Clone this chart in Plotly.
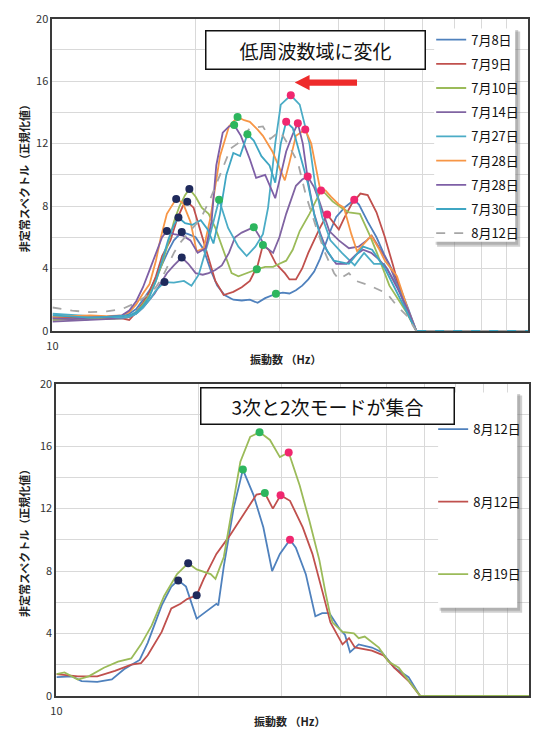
import plotly.graph_objects as go

W, H = 536, 743
def px(x): return x / W
def py(y): return 1 - y / H

# ---------------- top chart data ----------------
top_names = ["7月8日", "7月9日", "7月10日", "7月14日", "7月27日", "7月28日", "7月28日", "7月30日", "8月12日"]
top_colors = ["#4F81BD", "#C0504D", "#9BBB59", "#8064A2", "#4BACC6", "#F79646", "#7E5FA6", "#3FA6C3", "#A6A6A6"]

f_0708 = [10, 10.5, 11, 11.5, 12, 12.5, 13, 13.5, 14, 14.5, 15, 15.5, 16, 16.5, 17, 17.5, 18, 18.7, 19.3, 20, 20.8, 21.5, 22.2, 23, 24, 25, 26, 27, 28, 29.5, 30.5, 31.5, 32.5, 33.5, 34.5, 35.5, 36.5, 37.5, 38.5, 39.5, 41.1, 43.1, 44.1, 46, 48, 50, 53, 56, 58.2, 100]
v_0708 = [0.8, 0.75, 0.8, 0.7, 0.75, 0.8, 0.85, 0.8, 0.9, 1.1, 1.4, 2.0, 2.6, 3.4, 4.3, 5.1, 5.8, 6.33, 6.2, 6.0, 5.2, 3.9, 2.9, 2.3, 2.0, 1.95, 2.0, 1.8, 2.1, 2.38, 2.45, 2.4, 2.6, 2.9, 3.3, 3.8, 4.6, 5.6, 6.5, 7.3, 7.9, 8.4, 8.1, 7.0, 6.0, 4.8, 3.3, 1.4, 0, 0]

f_0709 = [10, 11, 12, 13, 14, 14.5, 15, 15.5, 16, 16.5, 17, 17.7, 18.3, 18.8, 19.2, 19.8, 20.5, 21.2, 22, 22.9, 24, 25, 26, 27, 27.7, 28.5, 29.5, 30.8, 31.5, 32.5, 33.5, 34.5, 35.5, 36.5, 37.8, 38.8, 40, 41, 42.5, 44.4, 46, 48, 50, 52, 54, 56, 58.2, 100]
v_0709 = [0.9, 0.85, 0.9, 0.85, 0.8, 0.7, 1.2, 1.8, 2.5, 3.5, 4.8, 5.8, 7.2, 8.0, 8.28, 7.9, 6.4, 4.8, 3.2, 2.3, 2.5, 2.8, 3.2, 4.2, 5.5, 5.2, 4.3, 3.7, 3.3, 3.3, 4.0, 5.0, 5.8, 6.6, 7.46, 7.0, 6.5, 7.2, 8.1, 8.8, 8.7, 7.6, 6.0, 4.2, 2.4, 1.0, 0, 0]

f_0710 = [10, 11, 12, 13, 14, 14.5, 15, 15.5, 16, 16.5, 17, 17.5, 18, 18.5, 19, 19.4, 20, 20.6, 21.3, 22, 22.7, 23.8, 24.6, 25.5, 26.9, 28, 29.1, 30, 31, 32, 33.1, 34.7, 36.4, 36.7, 37.5, 38.8, 40.5, 42, 44.3, 45.1, 46.5, 48.1, 51.1, 55.5, 58.2, 100]
v_0710 = [0.7, 0.75, 0.8, 0.75, 0.8, 0.9, 1.2, 1.7, 2.3, 3.2, 4.3, 5.6, 7.0, 8.0, 8.7, 9.1, 8.6, 7.9, 7.5, 6.6, 5.4, 3.7, 3.5, 3.7, 3.95, 4.1, 4.1, 4.3, 4.5, 5.2, 6.4, 7.5, 8.8, 9.0, 8.8, 8.3, 7.9, 7.6, 7.5, 7.0, 6.1, 5.0, 2.9, 1.2, 0, 0]

f_0714 = [10, 11, 12, 13, 14, 14.5, 15, 15.5, 16, 16.4, 17, 17.4, 18, 18.7, 19.3, 20, 20.7, 21.3, 22, 22.7, 23.5, 24.2, 25, 26.5, 27.3, 28, 29.1, 30, 31, 32.5, 33.5, 34.4, 35.5, 36.4, 38.2, 40, 42, 44, 45.8, 46.9, 48.5, 51, 53, 55.5, 58.2, 100]
v_0714 = [0.6, 0.65, 0.7, 0.75, 0.8, 0.9, 1.1, 1.5, 2.0, 2.4, 3.2, 3.7, 4.2, 4.7, 4.3, 3.7, 3.6, 3.7, 3.9, 4.2, 5.0, 6.0, 6.3, 6.65, 6.0, 5.4, 5.0, 6.0, 7.5, 9.3, 9.7, 9.9, 9.2, 8.3, 6.4, 5.8, 5.3, 5.4, 5.8, 6.1, 5.4, 4.3, 3.0, 1.4, 0, 0]

f_0727 = [10, 11, 12, 13, 14, 14.5, 15, 15.5, 16, 16.5, 17.2, 18, 18.9, 19.6, 20.3, 21.3, 22.4, 23.4, 24.6, 25.6, 26.7, 27.7, 28.4, 29.4, 30.2, 31.7, 33.1, 34.7, 35.7, 36.9, 38.4, 40.6, 43.2, 45.2, 47.4, 49.8, 53, 56, 58.2, 100]
v_0727 = [1.1, 1.0, 0.95, 0.9, 0.85, 0.9, 1.1, 1.5, 2.0, 2.6, 3.13, 3.1, 3.2, 2.9, 3.6, 5.8, 8.4, 6.6, 5.4, 4.8, 5.4, 6.2, 7.9, 12.0, 14.5, 15.1, 14.5, 12.0, 9.3, 7.3, 5.8, 5.0, 4.2, 5.0, 4.3, 4.3, 2.9, 1.2, 0, 0]

f_0728a = [10, 11, 12, 13, 14, 14.5, 15, 15.5, 16, 16.5, 16.9, 17.4, 18.2, 18.8, 19.5, 20.1, 20.8, 21.5, 22.5, 23.5, 24.5, 25.3, 26, 27, 27.7, 29, 30.2, 30.8, 31.5, 32.5, 34.0, 35, 36.5, 37.5, 38.5, 40, 41, 42.5, 43.7, 45, 46.8, 48.5, 50, 53, 56, 58.2, 100]
v_0728a = [0.9, 0.95, 1.0, 0.95, 1.0, 1.2, 1.7, 2.4, 3.0, 4.5, 6.0, 7.5, 8.46, 8.2, 7.0, 5.1, 5.3, 7.3, 11.2, 13.1, 13.7, 13.5, 13.4, 12.9, 12.5, 11.5, 10.2, 9.65, 10.8, 12.5, 12.9, 12.0, 9.15, 9.0, 8.6, 8.1, 7.9, 6.2, 5.1, 5.5, 6.1, 5.3, 4.5, 3.5, 1.3, 0, 0]

f_0728b = [10, 11, 12, 13, 14, 14.5, 15, 15.5, 16, 16.5, 17, 17.4, 18, 18.8, 19.5, 20.2, 21, 21.6, 22.1, 22.8, 23.5, 24.1, 24.9, 26.0, 26.8, 28.0, 29.4, 30.2, 31, 32, 32.8, 33.6, 34.5, 35.5, 36.6, 37.8, 39.5, 41.5, 43.5, 45, 46.8, 48.5, 50.5, 53, 56, 58.2, 100]
v_0728b = [0.8, 0.75, 0.85, 0.9, 1.0, 1.3, 1.9, 2.8, 3.9, 5.0, 6.0, 6.4, 6.2, 6.1, 5.8, 5.0, 5.3, 7.0, 10.6, 12.7, 13.1, 13.2, 12.5, 11.0, 9.8, 10.0, 8.5, 10.0, 11.5, 12.6, 13.3, 12.0, 9.5, 7.5, 6.2, 5.1, 4.3, 4.3, 4.9, 5.2, 5.0, 4.6, 4.0, 2.8, 1.3, 0, 0]

f_0730 = [10, 11, 12, 13, 14, 14.5, 15, 15.5, 16, 16.5, 17, 17.5, 18, 18.4, 19, 19.7, 20.5, 21.2, 21.8, 22.5, 23.2, 24, 24.8, 25.7, 26.5, 27.5, 28.6, 29.4, 30.2, 31.0, 32, 33, 34.4, 35.6, 37, 39, 42, 45, 47, 50, 53, 56, 58.2, 100]
v_0730 = [1.0, 0.9, 0.85, 0.9, 0.95, 1.0, 1.2, 1.6, 2.2, 3.2, 4.5, 5.8, 6.8, 7.27, 6.9, 6.8, 7.1, 6.5, 5.6, 7.5, 10.0, 11.4, 11.2, 12.6, 12.2, 11.2, 10.6, 9.5, 12.0, 13.4, 13.0, 11.5, 9.5, 7.3, 5.6, 4.5, 4.3, 5.4, 5.2, 4.0, 2.5, 1.0, 0, 0]

f_0812 = [10, 10.5, 11, 12, 13, 14, 14.5, 15, 15.5, 16, 16.5, 17, 17.5, 18, 18.5, 19.5, 20.5, 21.5, 22.5, 23.7, 24.5, 26.0, 27.7, 28.7, 30.1, 31.5, 32.8, 34.1, 35.7, 37.3, 39.1, 40, 42, 43.5, 46.5, 50.5, 53, 55.5, 58.2, 100]
v_0812 = [1.5, 1.4, 1.3, 1.2, 1.25, 1.4, 1.6, 1.8, 2.1, 2.4, 2.8, 3.4, 4.2, 5.0, 5.6, 6.4, 7.2, 8.5, 10.0, 11.7, 12.0, 13.0, 13.1, 12.3, 12.8, 11.8, 10.8, 8.7, 6.8, 5.1, 3.7, 3.3, 3.7, 3.2, 2.9, 2.4, 1.6, 1.0, 0, 0]

top_f = [f_0708, f_0709, f_0710, f_0714, f_0727, f_0728a, f_0728b, f_0730, f_0812]
top_v = [v_0708, v_0709, v_0710, v_0714, v_0727, v_0728a, v_0728b, v_0730, v_0812]

# mode markers (top)
top_m2_f = [17.2, 17.4, 18.2, 18.4, 18.7, 18.7, 19.2, 19.4]
top_m2_v = [3.13, 6.4, 8.46, 7.27, 6.33, 4.7, 8.28, 9.1]
top_m3_f = [22.4, 24.1, 24.5, 25.7, 26.5, 26.9, 27.7, 29.5]
top_m3_v = [8.4, 13.2, 13.7, 12.6, 6.65, 3.95, 5.5, 2.38]
top_m4_f = [31.0, 31.7, 32.8, 34.0, 34.4, 36.7, 37.8, 43.1]
top_m4_v = [13.4, 15.1, 13.3, 12.9, 9.9, 9.0, 7.46, 8.4]

# ---------------- bottom chart data ----------------
bot_names = ["8月12日", "8月12日", "8月19日"]
bot_colors = ["#4F81BD", "#C0504D", "#9BBB59"]

fb_1 = [10, 10.8, 11.3, 12.2, 13.1, 13.9, 15.0, 15.6, 16.7, 17.5, 18.1, 18.8, 19.8, 20.5, 21.2, 21.8, 22.0, 22.6, 23.7, 24.8, 26.1, 27.4, 28.6, 29.7, 31.2, 32.1, 33.7, 35.3, 36.5, 37.8, 39.7, 40.8, 41.8, 43.6, 46.5, 48.8, 51.9, 55.6, 58.8, 100]
vb_1 = [1.2, 1.25, 0.95, 0.9, 1.05, 1.7, 2.3, 3.4, 5.8, 7.0, 7.4, 7.0, 4.95, 5.3, 5.6, 5.9, 5.8, 8.3, 12.0, 14.5, 12.9, 10.8, 8.0, 9.1, 10.0, 9.5, 7.8, 5.1, 5.3, 5.3, 4.3, 3.9, 2.8, 3.3, 3.1, 2.8, 1.8, 1.2, 0, 0]

fb_2 = [10, 11.1, 12.2, 13.3, 14.4, 15.1, 15.6, 16.7, 17.5, 18.3, 18.9, 19.8, 20.5, 21.8, 23.3, 24.8, 26.5, 27.6, 28.7, 29.8, 31.2, 33.2, 34.8, 36.6, 38.0, 40.3, 41.6, 42.8, 46.5, 49.2, 51.9, 55.6, 58.8, 100]
vb_2 = [1.4, 1.25, 1.25, 1.6, 2.0, 2.1, 2.6, 4.1, 5.6, 5.9, 6.2, 6.45, 7.5, 9.1, 10.3, 11.6, 12.9, 13.0, 12.0, 12.85, 12.5, 10.8, 9.1, 6.6, 4.7, 3.3, 3.7, 3.1, 2.9, 2.6, 1.8, 0.95, 0, 0]

fb_3 = [10, 10.4, 11.1, 11.7, 12.6, 13.5, 14.4, 15.1, 15.9, 16.9, 18.0, 19.0, 19.8, 21.2, 21.7, 22.6, 23.7, 24.5, 25.7, 26.9, 28.3, 29.7, 31.0, 32.7, 34.3, 36.0, 37.1, 38.0, 38.4, 40.3, 42.6, 43.6, 44.9, 48.1, 50.4, 53.0, 58.8, 100]
vb_3 = [1.4, 1.5, 1.05, 1.25, 1.8, 2.2, 2.4, 3.3, 4.5, 6.4, 7.8, 8.5, 8.1, 7.8, 7.5, 8.9, 12.5, 15.0, 16.6, 16.9, 16.4, 15.3, 15.6, 13.5, 11.2, 8.7, 6.6, 5.1, 4.7, 4.1, 4.0, 3.7, 3.8, 3.1, 2.2, 1.8, 0, 0]

bot_f = [fb_1, fb_2, fb_3]
bot_v = [vb_1, vb_2, vb_3]

bot_m2_f = [18.1, 19.0, 19.8]
bot_m2_v = [7.4, 8.5, 6.45]
bot_m3_f = [24.8, 26.9, 27.6]
bot_m3_v = [14.5, 16.9, 13.0]
bot_m4_f = [31.2, 31.0, 29.8]
bot_m4_v = [10.0, 15.6, 12.85]

x_ticks = [10, 20, 30, 40, 50, 60, 70, 80, 90, 100]
x_ticktext = ["10", "", "", "", "", "", "", "", "", "100"]
y_ticks = [0, 2, 4, 6, 8, 10, 12, 14, 16, 18, 20]
y_ticktext = ["0", "", "4", "", "8", "", "12", "", "16", "", "20"]

C_M2, C_M3, C_M4 = "#1F2A5C", "#2DB65E", "#F0276F"
FONT = "Noto Sans CJK JP"

fig = go.Figure()

for i, (f, v) in enumerate(zip(top_f, top_v)):
    fig.add_trace(go.Scatter(
        x=f, y=v, mode="lines", name=top_names[i], xaxis="x", yaxis="y",
        line=dict(color=top_colors[i], width=1.8, dash="dash" if i == 8 else "solid"),
        legend="legend", legendgroup="t%d" % i, showlegend=True))

for (mf, mv, mc) in [(top_m2_f, top_m2_v, C_M2), (top_m3_f, top_m3_v, C_M3), (top_m4_f, top_m4_v, C_M4)]:
    fig.add_trace(go.Scatter(x=mf, y=mv, mode="markers", xaxis="x", yaxis="y",
                             marker=dict(color=mc, size=8), showlegend=False))

for i, (f, v) in enumerate(zip(bot_f, bot_v)):
    fig.add_trace(go.Scatter(
        x=f, y=v, mode="lines", name=bot_names[i], xaxis="x2", yaxis="y2",
        line=dict(color=bot_colors[i], width=1.8),
        legend="legend2", legendgroup="b%d" % i, showlegend=True))

for (mf, mv, mc) in [(bot_m2_f, bot_m2_v, C_M2), (bot_m3_f, bot_m3_v, C_M3), (bot_m4_f, bot_m4_v, C_M4)]:
    fig.add_trace(go.Scatter(x=mf, y=mv, mode="markers", xaxis="x2", yaxis="y2",
                             marker=dict(color=mc, size=8), showlegend=False))

axis_common = dict(showgrid=True, gridcolor="#D9D9D9", gridwidth=1, zeroline=False,
                   showline=True, mirror=True, linecolor="#3A3A3A", linewidth=2,
                   ticks="", tickfont=dict(family=FONT, size=11, color="#333333"))

xax = dict(type="log", range=[1, 2], tickvals=x_ticks, ticktext=x_ticktext, ticklabelstandoff=4, **axis_common)
yax = dict(range=[0, 20], tickvals=y_ticks, ticktext=y_ticktext, **axis_common)

fig.update_layout(
    width=W, height=H, margin=dict(l=0, r=0, t=0, b=0),
    paper_bgcolor="white", plot_bgcolor="white",
    font=dict(family=FONT),
    xaxis=dict(domain=[px(47), px(528)], anchor="y", **xax),
    yaxis=dict(domain=[py(329), py(10)], anchor="x", **yax),
    xaxis2=dict(domain=[px(51), px(529)], anchor="y2", **xax),
    yaxis2=dict(domain=[py(702), py(383)], anchor="x2", **yax),
    legend=dict(x=px(430), y=py(16), xanchor="left", yanchor="top", bgcolor="rgba(0,0,0,0)",
                font=dict(family=FONT, size=13, color="#111111"), itemwidth=30,
                traceorder="grouped", tracegroupgap=4.3),
    legend2=dict(x=px(432), y=py(414), xanchor="left", yanchor="top", bgcolor="rgba(0,0,0,0)",
                 font=dict(family=FONT, size=13, color="#111111"), itemwidth=30,
                 traceorder="grouped", tracegroupgap=52.6),
)

shapes = []
# legend boxes with shadow
for (x0, y0, x1, y1) in [(433, 20, 515, 238), (437, 392, 517, 612)]:
    shapes.append(dict(type="rect", xref="paper", yref="paper", x0=px(x0 + 3), x1=px(x1 + 5), y0=py(y0 + 3), y1=py(y1 + 5),
                       fillcolor="rgba(120,120,120,0.35)", line=dict(width=0), layer="above"))
    shapes.append(dict(type="rect", xref="paper", yref="paper", x0=px(x0 + 1.5), x1=px(x1 + 3), y0=py(y0 + 1.5), y1=py(y1 + 3),
                       fillcolor="rgba(120,120,120,0.35)", line=dict(width=0), layer="above"))
    shapes.append(dict(type="rect", xref="paper", yref="paper", x0=px(x0), x1=px(x1), y0=py(y0), y1=py(y1),
                       fillcolor="white", line=dict(width=0), layer="above"))
# red arrow
shapes.append(dict(type="rect", xref="paper", yref="paper", x0=px(304), x1=px(355), y0=py(72), y1=py(78.5),
                   fillcolor="#EE2B2B", line=dict(width=0), layer="above"))
shapes.append(dict(type="path", xref="paper", yref="paper",
                   path="M %f,%f L %f,%f L %f,%f Z" % (px(292), py(75.2), px(307), py(67.5), px(307), py(83)),
                   fillcolor="#EE2B2B", line=dict(width=0), layer="above"))
fig.update_layout(shapes=shapes)

ann = []
ann.append(dict(xref="paper", yref="paper", x=px(312.5), y=py(42), text="低周波数域に変化", showarrow=False,
                font=dict(family=FONT, size=19, color="#111111"), bgcolor="white", bordercolor="#111111",
                borderwidth=1.5, borderpad=0, width=218, height=37, xanchor="center", yanchor="middle"))
ann.append(dict(xref="paper", yref="paper", x=px(325.5), y=py(406), text="3次と2次モードが集合", showarrow=False,
                font=dict(family=FONT, size=19, color="#111111"), bgcolor="white", bordercolor="#111111",
                borderwidth=1.5, borderpad=0, width=252, height=35, xanchor="center", yanchor="middle"))
for yc in [170, 543]:
    ann.append(dict(xref="paper", yref="paper", x=px(19), y=py(yc), text="非定常スペクトル（正規化値）", showarrow=False,
                    textangle=-90, font=dict(family=FONT, size=11, color="#222222", weight="bold"),
                    xanchor="center", yanchor="middle"))
for (xc, yc) in [(283, 358), (287, 728)]:
    ann.append(dict(xref="paper", yref="paper", x=px(xc), y=py(yc), text="振動数 （Hz）", showarrow=False,
                    font=dict(family=FONT, size=11, color="#222222", weight="bold"),
                    xanchor="center", yanchor="middle"))
fig.update_layout(annotations=ann)

fig.write_html("out.html", post_script="document.body.style.margin='0';document.body.style.padding='0';")
